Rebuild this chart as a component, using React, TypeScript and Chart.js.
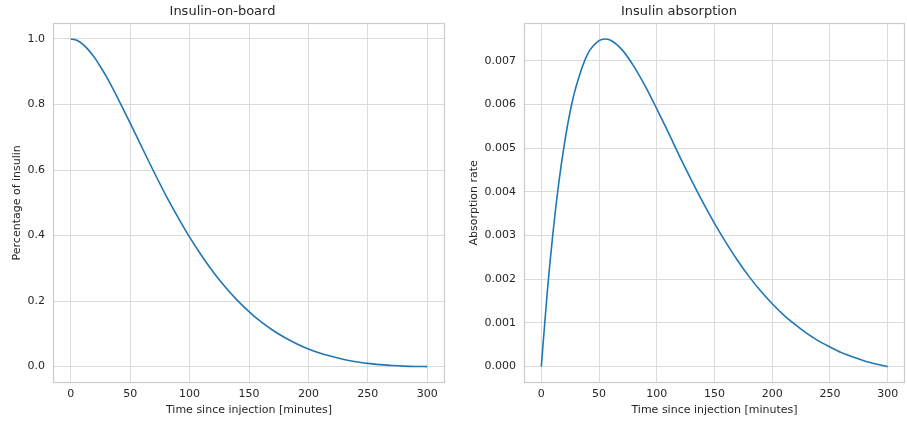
import React, { useEffect, useRef } from "react";
import { Chart, registerables } from "chart.js";

Chart.register(...registerables);

// Minutes after the injection at which both curves are sampled
const TIME_MIN = [
  0, 5, 10, 15, 20, 25, 30, 40, 50, 55, 60, 70, 80, 90, 100, 110, 120, 130, 140,
  150, 160, 170, 180, 190, 200, 210, 220, 230, 240, 250, 260, 270, 280, 290, 300,
];

// Fraction of the dose still on board
const IOB = [
  1.0, 0.996, 0.984, 0.966, 0.943, 0.915, 0.885, 0.816, 0.743, 0.706, 0.668,
  0.594, 0.523, 0.457, 0.395, 0.339, 0.288, 0.243, 0.203, 0.168, 0.137, 0.111,
  0.089, 0.07, 0.054, 0.041, 0.031, 0.022, 0.015, 0.01, 0.006, 0.0035, 0.0016,
  0.0005, 0.0,
];

// Absorption rate (fraction of the dose per minute)
const ABSORPTION = [
  0.0, 0.00166, 0.00304, 0.00418, 0.0051, 0.00584, 0.0064, 0.00715, 0.00746,
  0.0075, 0.00747, 0.00725, 0.00688, 0.00642, 0.0059, 0.00536, 0.0048, 0.00427,
  0.00376, 0.00328, 0.00284, 0.00243, 0.00206, 0.00173, 0.00144, 0.00118,
  0.00096, 0.00076, 0.00059, 0.00045, 0.00032, 0.00022, 0.00013, 0.00006, 0.0,
];

const X_TICKS = [0, 50, 100, 150, 200, 250, 300];
const IOB_TICKS = [0, 0.2, 0.4, 0.6, 0.8, 1.0];
const ABS_TICKS = [0, 0.001, 0.002, 0.003, 0.004, 0.005, 0.006, 0.007];

const FONT = "'DejaVu Sans', sans-serif";
const TEXT = "#262626";
const GRID = "#dbdbdb";
const FRAME = "#cccccc";
const LINE = "#1f77b4";
const HEIGHT = 421;

// 5 % margin around the data range, as in the usual plotting defaults
function padded(values: number[]) {
  const lo = Math.min(...values);
  const hi = Math.max(...values);
  const m = (hi - lo) * 0.05;
  return [lo - m, hi + m];
}

const framePlugin = {
  id: "frame",
  afterDatasetsDraw(chart: any) {
    const { ctx, chartArea } = chart;
    const l = Math.round(chartArea.left) + 0.5;
    const t = Math.round(chartArea.top) + 0.5;
    const r = Math.round(chartArea.right) - 0.5;
    const b = Math.round(chartArea.bottom) - 0.5;
    ctx.save();
    ctx.strokeStyle = FRAME;
    ctx.lineWidth = 1.25;
    ctx.strokeRect(l, t, r - l, b - t);
    ctx.restore();
  },
};

type PanelProps = {
  left: number;
  width: number;
  yAxisWidth: number;
  padRight: number;
  title: string;
  yTitle: string;
  yTitlePad: number;
  values: number[];
  yTicks: number[];
  decimals: number;
};

function Panel(p: PanelProps) {
  const ref = useRef<HTMLCanvasElement>(null);

  useEffect(() => {
    const font = { family: FONT, size: 11 };
    const [xMin, xMax] = padded(TIME_MIN);
    const [yMin, yMax] = padded(p.values);
    const chart = new Chart(ref.current as HTMLCanvasElement, {
      type: "line",
      data: {
        datasets: [
          {
            data: TIME_MIN.map((t, i) => ({ x: t, y: p.values[i] })),
            borderColor: LINE,
            borderWidth: 1.6,
            pointRadius: 0,
            cubicInterpolationMode: "monotone",
            fill: false,
          },
        ],
      },
      options: {
        responsive: false,
        animation: false,
        events: [],
        layout: { padding: { left: 0, right: p.padRight, top: 0, bottom: 0 } },
        plugins: {
          legend: { display: false },
          tooltip: { enabled: false },
          title: {
            display: true,
            text: p.title,
            color: TEXT,
            font: { family: FONT, size: 13, weight: "normal" },
            padding: { top: 4, bottom: 3 },
          },
        },
        scales: {
          x: {
            type: "linear",
            min: xMin,
            max: xMax,
            afterBuildTicks: (s: any) => {
              s.ticks = X_TICKS.map((v) => ({ value: v }));
            },
            afterFit: (s: any) => {
              s.height = 38;
            },
            ticks: {
              color: TEXT,
              font,
              padding: 5,
              autoSkip: false,
              maxRotation: 0,
              callback: (v: any) => String(v),
            },
            grid: { color: GRID, lineWidth: 1, drawTicks: false },
            border: { display: false },
            title: {
              display: true,
              text: "Time since injection [minutes]",
              color: TEXT,
              font,
              padding: { top: 0, bottom: 4.4 },
            },
          },
          y: {
            type: "linear",
            min: yMin,
            max: yMax,
            afterBuildTicks: (s: any) => {
              s.ticks = p.yTicks.map((v) => ({ value: v }));
            },
            afterFit: (s: any) => {
              s.width = p.yAxisWidth;
            },
            ticks: {
              color: TEXT,
              font,
              padding: 8,
              autoSkip: false,
              callback: (v: any) => Number(v).toFixed(p.decimals),
            },
            grid: { color: GRID, lineWidth: 1, drawTicks: false },
            border: { display: false },
            title: {
              display: true,
              text: p.yTitle,
              color: TEXT,
              font,
              padding: { top: p.yTitlePad, bottom: 0 },
            },
          },
        },
      } as any,
      plugins: [framePlugin],
    });
    return () => chart.destroy();
  }, []);

  return (
    <canvas
      ref={ref}
      width={p.width}
      height={HEIGHT}
      style={{ position: "absolute", left: p.left, top: 0 }}
    />
  );
}

export default function App() {
  return (
    <div
      style={{
        position: "absolute",
        left: 0,
        top: 0,
        width: 907,
        height: HEIGHT,
        overflow: "hidden",
        background: "#ffffff",
      }}
    >
      <Panel
        left={0}
        width={453}
        yAxisWidth={53}
        padRight={8}
        title="Insulin-on-board"
        yTitle="Percentage of insulin"
        yTitlePad={10.4}
        values={IOB}
        yTicks={IOB_TICKS}
        decimals={1}
      />
      <Panel
        left={453}
        width={507}
        yAxisWidth={71}
        padRight={55}
        title="Insulin absorption"
        yTitle="Absorption rate"
        yTitlePad={14.4}
        values={ABSORPTION}
        yTicks={ABS_TICKS}
        decimals={3}
      />
    </div>
  );
}
